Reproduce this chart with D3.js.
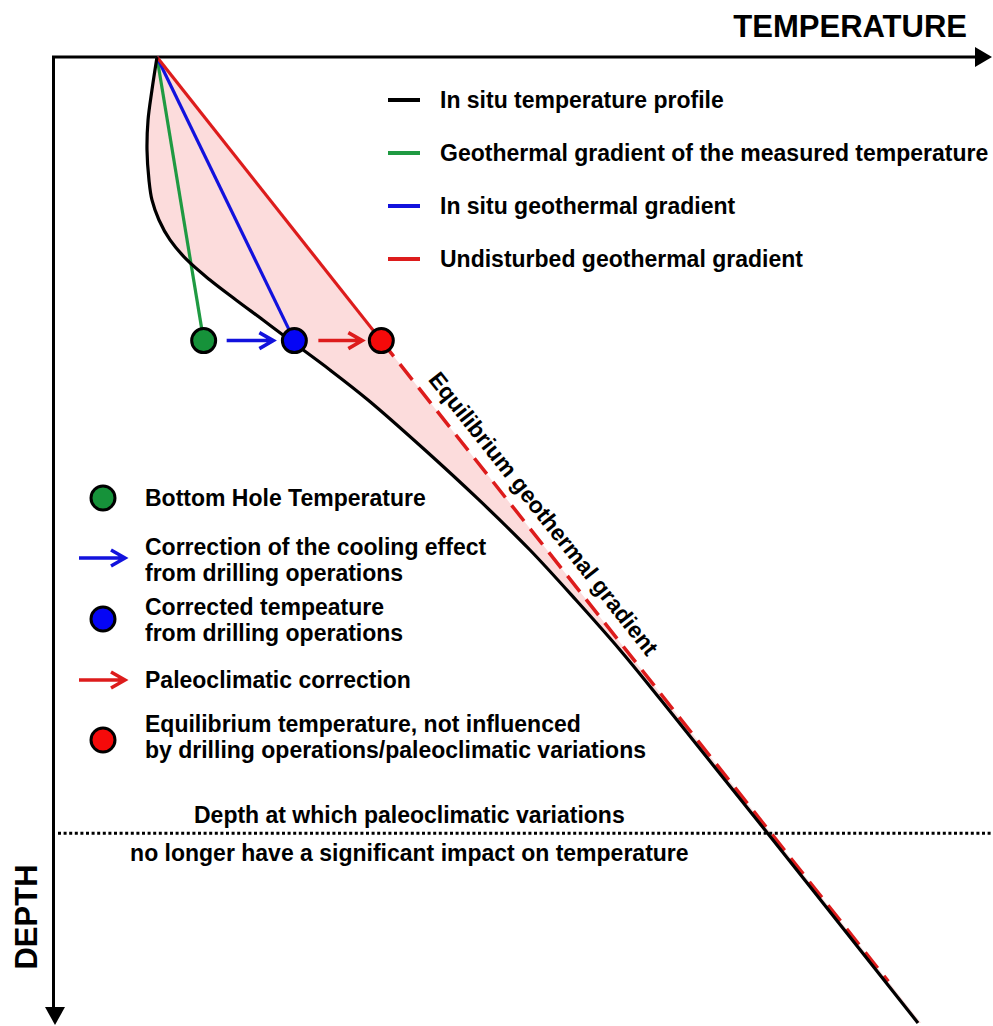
<!DOCTYPE html>
<html>
<head>
  <meta charset="utf-8">
  <script src="https://cdn.jsdelivr.net/npm/d3@7"></script>
  <style>
    body { margin: 0; background: #fff; }
    text {
      font-family: "Liberation Sans", Arial, sans-serif;
      font-weight: bold;
      fill: #000;
    }
  </style>
</head>
<body>
  <div id="chart"></div>
  <script>
    // schematic values, in arbitrary temperature / depth units (0-100)
    var surfaceTemp = 10.9;
    var profileTemp = [10.91, 10.37, 9.95, 9.84, 10.05, 10.37, 11.12, 12.3, 14.12, 16.58, 19.36, 22.25, 25.24,
      29.41, 33.48, 39.57, 45.35, 50.8, 55.72, 60.43, 64.81, 69.09, 73.37, 75.94, 84.17, 92.3];
    var profileDepth = [0, 3.41, 6.51, 9.61, 12.71, 14.77, 16.84, 18.9, 20.97, 23.04, 25.1, 27.17, 29.34,
      32.33, 35.43, 40.6, 45.76, 50.93, 56.1, 61.26, 66.43, 71.59, 76.76, 79.86, 89.88, 99.79];
    var bhtDepth = 29.3;
    var gradientKeys = ["measured", "insitu", "undisturbed"];
    var gradientTemps = [15.9, 25.6, 34.9];
    var equilibriumEnd = 95.5;
    var paleoDepth = 80.2;
    var labelDepth = 34.1;

    var profileLegend = ["In situ temperature profile", "Geothermal gradient of the measured temperature",
      "In situ geothermal gradient", "Undisturbed geothermal gradient"];
    var profileLegendKeys = ["profile", "measured", "insitu", "undisturbed"];
    var markerLegend = [
      {symbol: "dot", key: "measured", lines: ["Bottom Hole Temperature"]},
      {symbol: "arrow", key: "insitu", lines: ["Correction of the cooling effect", "from drilling operations"]},
      {symbol: "dot", key: "insitu", lines: ["Corrected tempeature", "from drilling operations"]},
      {symbol: "arrow", key: "undisturbed", lines: ["Paleoclimatic correction"]},
      {symbol: "dot", key: "undisturbed", lines: ["Equilibrium temperature, not influenced", "by drilling operations/paleoclimatic variations"]}
    ];
    var paleoText = ["Depth at which paleoclimatic variations", "no longer have a significant impact on temperature"];

    var lineColor = {profile: "#000", measured: "#1f9a42", insitu: "#1212dd", undisturbed: "#dd1c1c"};
    var dotColor = {measured: "#16923a", insitu: "#0505f5", undisturbed: "#f50a0a"};

    var width = 993, height = 1026;
    var svg = d3.select("#chart").append("svg")
      .attr("width", width)
      .attr("height", height);

    var x = d3.scaleLinear().domain([0, 100]).range([55, 990]);
    var y = d3.scaleLinear().domain([0, 100]).range([57, 1025]);
    var x0 = x.range()[0], x1 = x.range()[1], y0 = y.range()[0], y1 = y.range()[1];

    var redSlope = (gradientTemps[2] - surfaceTemp) / bhtDepth;
    var redT = function (d) { return surfaceTemp + redSlope * d; };

    var profile = profileTemp.map(function (t, i) { return [t, profileDepth[i]]; });
    var line = d3.line()
      .x(function (d) { return x(d[0]); })
      .y(function (d) { return y(d[1]); })
      .curve(d3.curveCatmullRom.alpha(0.5));

    // pink area between profile and undisturbed gradient
    var last = profileDepth[profileDepth.length - 1];
    svg.append("path")
      .attr("d", line(profile) + "L" + x(redT(last)) + "," + y(last) + "L" + x(surfaceTemp) + "," + y(0) + "Z")
      .attr("fill", "#fcdcdc")
      .attr("stroke", "none");

    // axes
    svg.append("path")
      .attr("d", "M" + (x1 - 12) + "," + y0 + "H" + (x0 - 1.5) + "V" + (y1 - 14))
      .attr("fill", "none")
      .attr("stroke", "#000")
      .attr("stroke-width", 3);
    svg.append("path")
      .attr("d", "M" + (x1 + 2) + "," + y0 + "L" + (x1 - 15) + "," + (y0 - 10) + "L" + (x1 - 15) + "," + (y0 + 10) + "Z")
      .attr("fill", "#000");
    svg.append("path")
      .attr("d", "M" + x0 + "," + y1 + "L" + (x0 - 10) + "," + (y1 - 18) + "L" + (x0 + 10) + "," + (y1 - 18) + "Z")
      .attr("fill", "#000");

    svg.append("text")
      .attr("x", 967).attr("y", 37)
      .attr("text-anchor", "end")
      .style("font-size", "31px")
      .text("TEMPERATURE");
    svg.append("text")
      .attr("transform", "translate(37,917) rotate(-90)")
      .attr("text-anchor", "middle")
      .style("font-size", "31px")
      .text("DEPTH");

    // paleoclimatic depth line
    svg.append("line")
      .attr("x1", x0 + 3).attr("x2", width)
      .attr("y1", y(paleoDepth)).attr("y2", y(paleoDepth))
      .attr("stroke", "#000")
      .attr("stroke-width", 3)
      .attr("stroke-dasharray", "3,2.6");
    svg.selectAll(".paleo")
      .data(paleoText)
      .enter().append("text")
      .attr("class", "paleo")
      .attr("x", x(37.9))
      .attr("y", function (d, i) { return y(paleoDepth) + (i ? 28 : -10); })
      .attr("text-anchor", "middle")
      .style("font-size", "23px")
      .text(function (d) { return d; });

    // equilibrium (dashed) gradient
    svg.append("line")
      .attr("x1", x(gradientTemps[2])).attr("y1", y(bhtDepth))
      .attr("x2", x(redT(equilibriumEnd))).attr("y2", y(equilibriumEnd))
      .attr("stroke", lineColor.undisturbed)
      .attr("stroke-width", 3.5)
      .attr("stroke-dasharray", "20,10");

    // gradients from surface to BHT depth
    svg.selectAll(".grad")
      .data(gradientKeys)
      .enter().append("line")
      .attr("class", "grad")
      .attr("x1", x(surfaceTemp)).attr("y1", y(0))
      .attr("x2", function (d, i) { return x(gradientTemps[i]); })
      .attr("y2", y(bhtDepth))
      .attr("stroke", function (d) { return lineColor[d]; })
      .attr("stroke-width", 3.2);

    // in situ profile
    svg.append("path")
      .attr("d", line(profile))
      .attr("fill", "none")
      .attr("stroke", "#000")
      .attr("stroke-width", 3.2);

    // equilibrium label along the dashed line
    var ang = Math.atan2(y(50) - y(0), x(redT(50)) - x(redT(0)));
    var lx = x(redT(labelDepth)) + 12 * Math.sin(ang);
    var ly = y(labelDepth) - 12 * Math.cos(ang);
    svg.append("text")
      .attr("transform", "translate(" + lx + "," + ly + ") rotate(" + (ang * 180 / Math.PI) + ")")
      .style("font-size", "23px")
      .text("Equilibrium geothermal gradient");

    function arrow(g, xa, xb, yy, color) {
      g.append("path")
        .attr("d", "M" + xa + "," + yy + "H" + (xb - 1) + "M" + (xb - 14) + "," + (yy - 8) + "L" + xb + "," + yy + "L" + (xb - 14) + "," + (yy + 8))
        .attr("fill", "none")
        .attr("stroke", color)
        .attr("stroke-width", 3.5);
    }

    // correction arrows between the dots
    arrow(svg, x(gradientTemps[0]) + 23, x(gradientTemps[1]) - 21, y(bhtDepth), lineColor.insitu);
    arrow(svg, x(gradientTemps[1]) + 24, x(gradientTemps[2]) - 19, y(bhtDepth), lineColor.undisturbed);

    svg.selectAll(".dot")
      .data(gradientKeys)
      .enter().append("circle")
      .attr("class", "dot")
      .attr("cx", function (d, i) { return x(gradientTemps[i]); })
      .attr("cy", y(bhtDepth))
      .attr("r", 12)
      .attr("fill", function (d) { return dotColor[d]; })
      .attr("stroke", "#000")
      .attr("stroke-width", 3);

    // top legend
    var leg = svg.append("g");
    profileLegend.forEach(function (label, i) {
      var yy = 100 + i * 53;
      leg.append("line")
        .attr("x1", 388).attr("x2", 420)
        .attr("y1", yy).attr("y2", yy)
        .attr("stroke", lineColor[profileLegendKeys[i]])
        .attr("stroke-width", 4);
      leg.append("text")
        .attr("x", 440).attr("y", yy + 8)
        .style("font-size", "23px")
        .text(label);
    });

    // lower legend
    var rowY = [498, 558, 619, 680, 740];
    var firstBase = [8, -3, -4, 8, -8];
    var leg2 = svg.append("g");
    markerLegend.forEach(function (m, i) {
      var yy = rowY[i];
      if (m.symbol === "dot") {
        leg2.append("circle")
          .attr("cx", 103).attr("cy", yy).attr("r", 12)
          .attr("fill", dotColor[m.key])
          .attr("stroke", "#000")
          .attr("stroke-width", 3);
      } else {
        arrow(leg2, 79, 125, yy, lineColor[m.key]);
      }
      m.lines.forEach(function (t, j) {
        leg2.append("text")
          .attr("x", 145).attr("y", yy + firstBase[i] + j * 26)
          .style("font-size", "23px")
          .text(t);
      });
    });
  </script>
</body>
</html>
